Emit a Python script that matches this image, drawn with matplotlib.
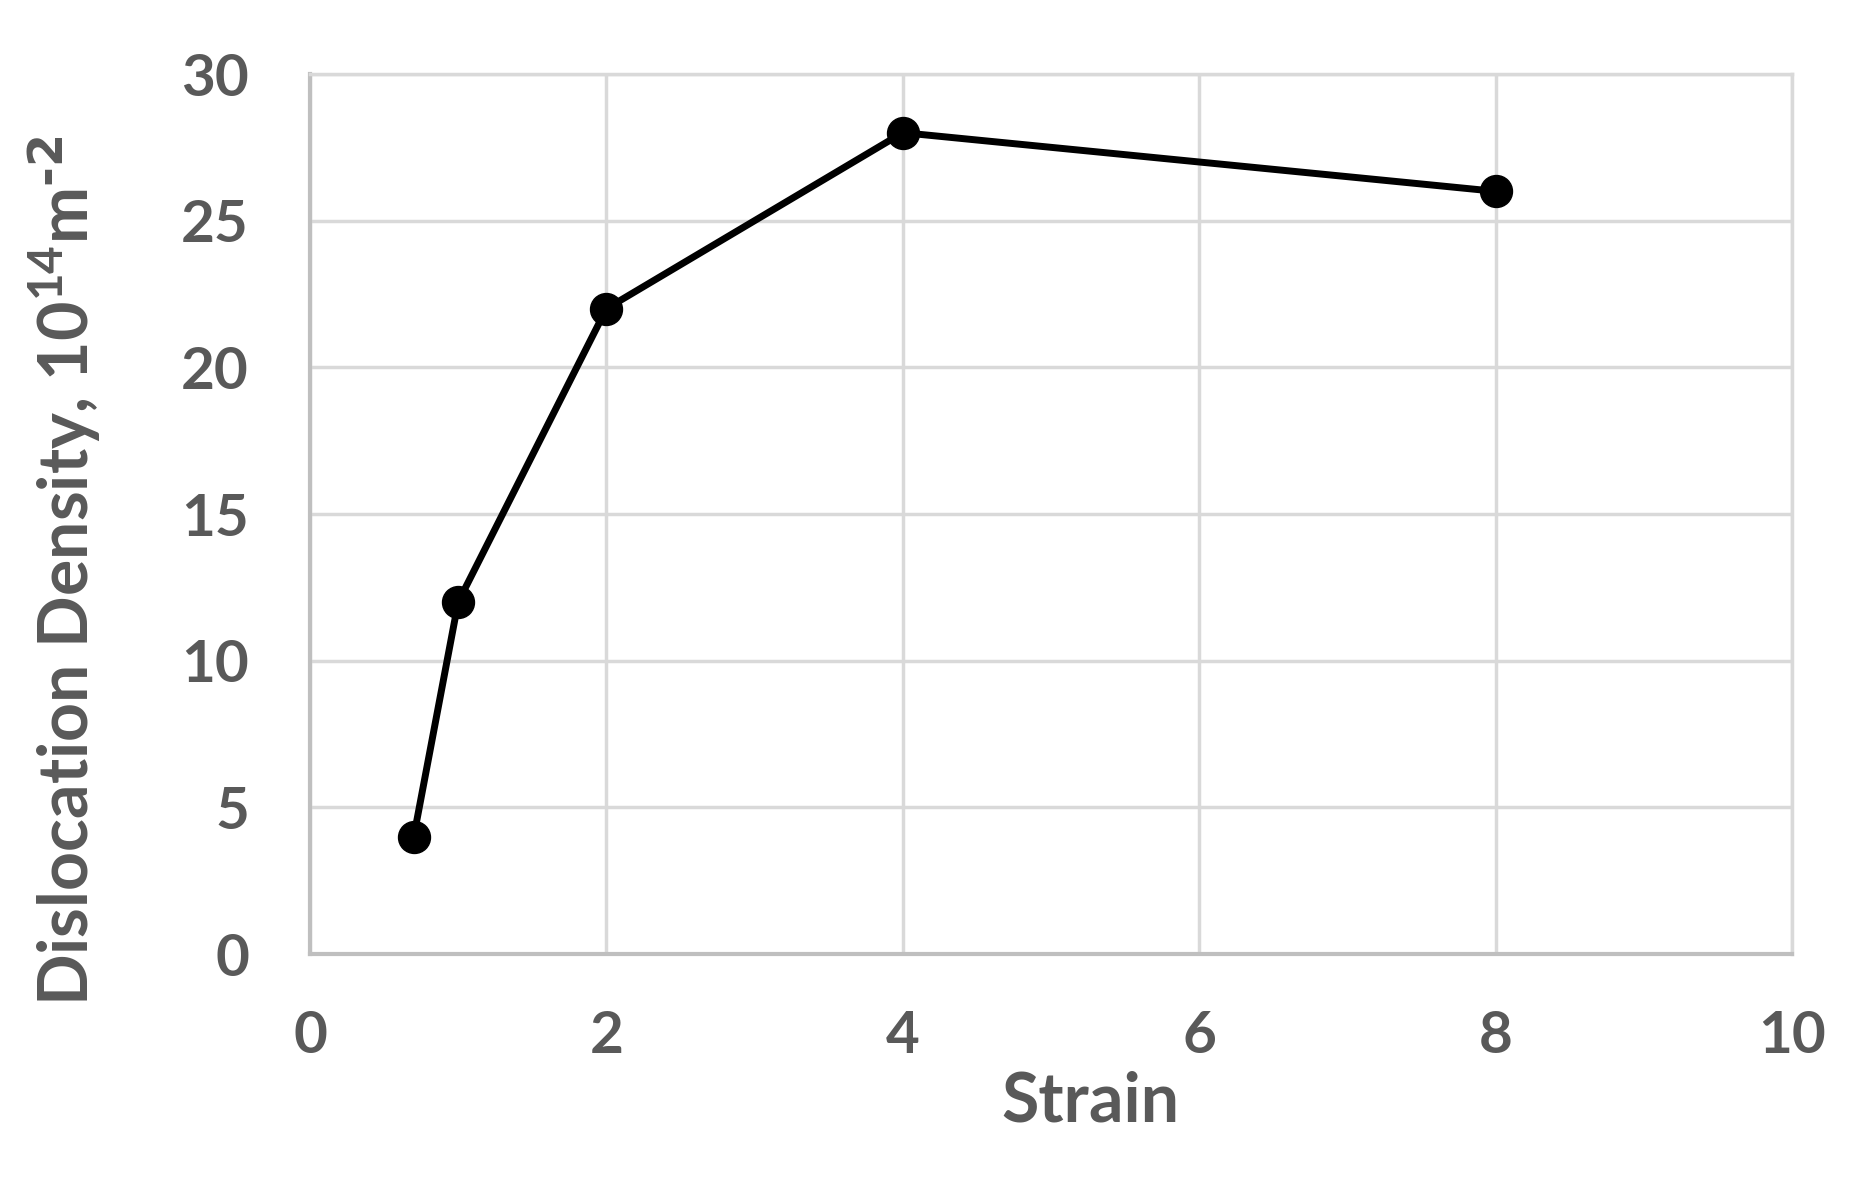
import matplotlib
matplotlib.use("Agg")
import matplotlib.pyplot as plt

strain = [0.7, 1, 2, 4, 8]
density = [4, 12, 22, 28, 26]
xticks = [0, 2, 4, 6, 8, 10]
yticks = [0, 5, 10, 15, 20, 25, 30]

plt.rcParams['font.family'] = ['Lato', 'DejaVu Sans']
plt.rcParams['font.weight'] = 'bold'
plt.rcParams['mathtext.default'] = 'regular'

W, H = 1850, 1179
fig = plt.figure(figsize=(W / 100, H / 100), dpi=100)
ax = fig.add_axes([310 / W, 1 - 954 / H, (1792 - 310) / W, (954 - 74) / H])

ax.plot(strain, density, color='black', lw=5, marker='o', markersize=23, zorder=3,
        clip_on=False)

ax.set_xlim(0, 10)
ax.set_ylim(0, 30)
ax.set_xticks(xticks)
ax.set_yticks(yticks)
ax.grid(True, color='#d9d9d9', lw=2.5)
ax.set_axisbelow(True)
for s in ['top', 'right']:
    ax.spines[s].set_color('#d9d9d9')
    ax.spines[s].set_linewidth(2.5)
for s in ['left', 'bottom']:
    ax.spines[s].set_color('#bfbfbf')
    ax.spines[s].set_linewidth(3)
ax.tick_params(length=0, labelsize=42, colors='#595959')
ax.tick_params(axis='x', pad=40)
ax.tick_params(axis='y', pad=44)
for lbl in ax.get_xticklabels() + ax.get_yticklabels():
    lbl.set_fontweight('bold')

ax.set_xlabel('Strain', fontsize=49, color='#595959', fontweight='bold', va='center')
ax.xaxis.set_label_coords((1090 - 310) / (1792 - 310), -(1102 - 954) / (954 - 74))
ax.set_ylabel(r'Dislocation Density, 10$^{14}$m$^{\text{-2}}$', fontsize=49,
              color='#595959', fontweight='bold', va='center')
ax.yaxis.set_label_coords((65 - 310) / (1792 - 310), 0.435)

fig.savefig('out.png', dpi=100, facecolor='white')
